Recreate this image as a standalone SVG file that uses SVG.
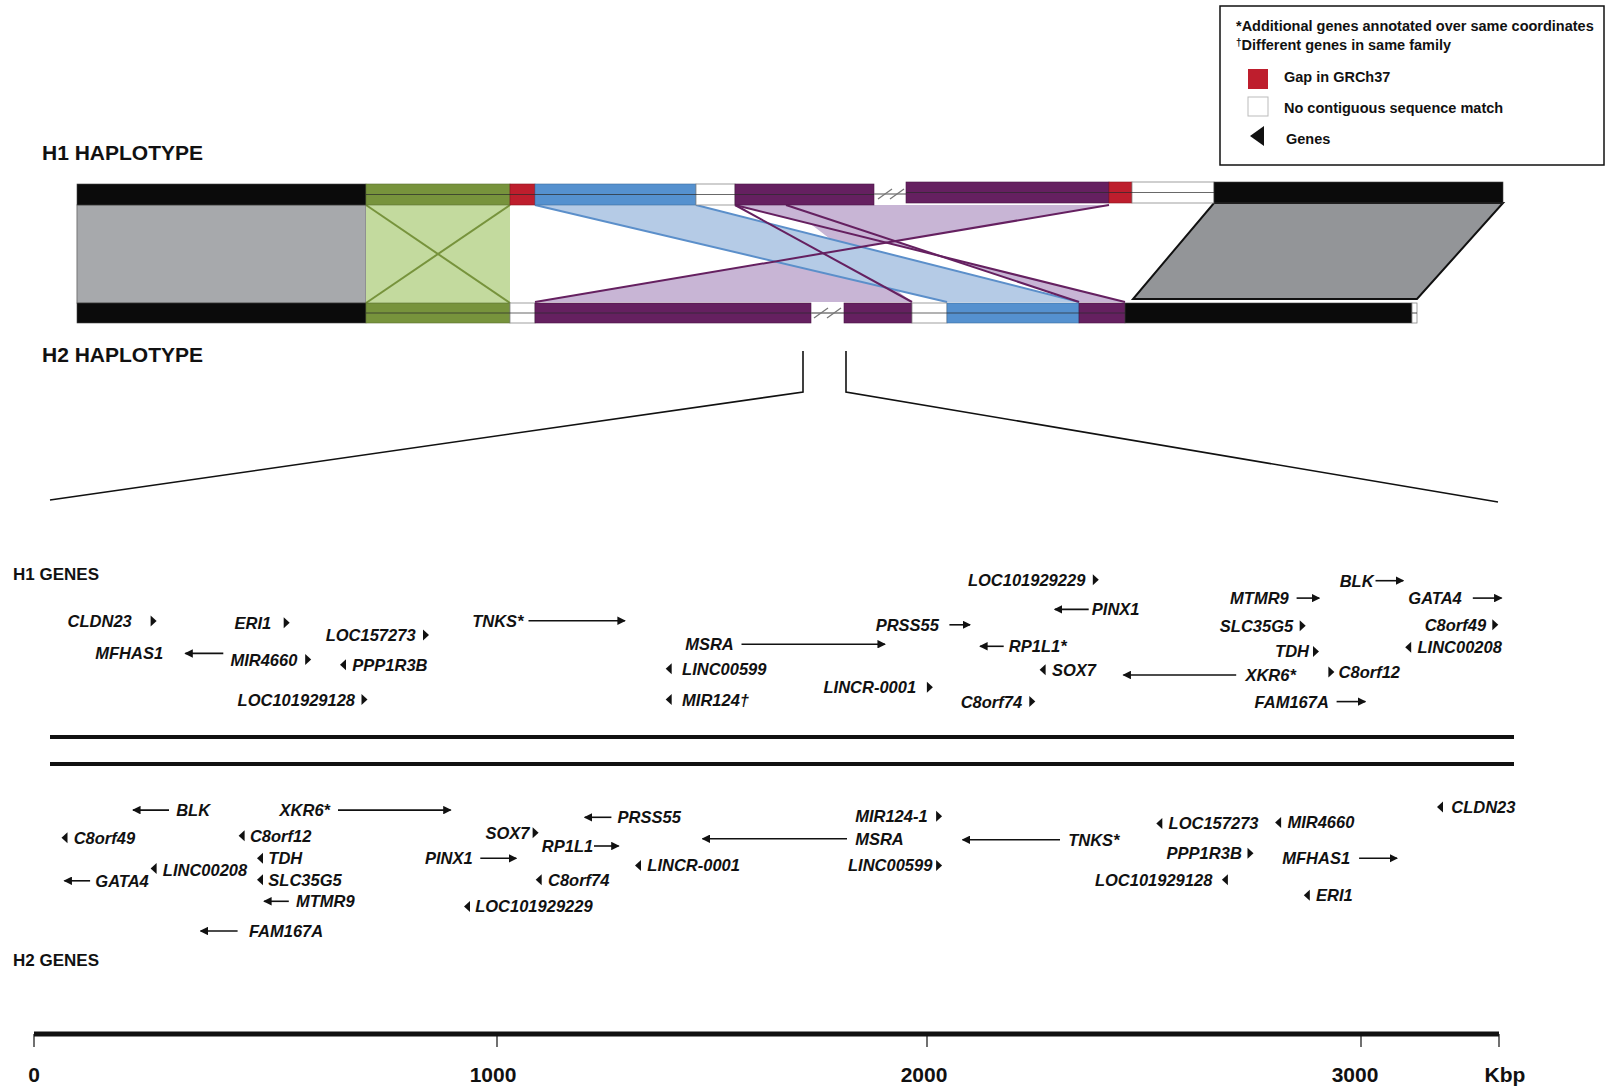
<svg xmlns="http://www.w3.org/2000/svg" width="1606" height="1089" viewBox="0 0 1606 1089">
<style>
.g{font-family:"Liberation Sans",Arial,sans-serif;font-weight:bold;font-style:italic;font-size:16.5px;fill:#111}
.h{font-family:"Liberation Sans",Arial,sans-serif;font-weight:bold;font-size:21px;fill:#111}
.s{font-family:"Liberation Sans",Arial,sans-serif;font-weight:bold;font-size:17px;fill:#111}
.lg{font-family:"Liberation Sans",Arial,sans-serif;font-weight:bold;font-size:14.5px;fill:#111}
.sc{font-family:"Liberation Sans",Arial,sans-serif;font-weight:bold;font-size:21px;fill:#111}
.ar{stroke:#111;stroke-width:1.6;fill:none;marker-end:url(#ah)}
.tri{fill:#111}
.blk{fill:#0b0b0b;stroke:#444;stroke-width:0.6}
.grn{fill:#77933c;stroke:#5a7030;stroke-width:0.6}
.red{fill:#be1e2d;stroke:#8a1520;stroke-width:0.6}
.blu{fill:#5591cf;stroke:#3f6f9f;stroke-width:0.6}
.pur{fill:#652060;stroke:#4a1746;stroke-width:0.6}
.wht{fill:#fff;stroke:#888;stroke-width:0.8}
.cl{stroke:#2a2a2a;stroke-width:1.2;opacity:0.7}
.br{stroke:#777;stroke-width:1.3}
.zl{stroke:#111;stroke-width:1.6;fill:none}
.ml{stroke:#652060;stroke-width:2;fill:none}
.bl{stroke:#5b8fca;stroke-width:2;fill:none}
</style>
<defs>
<marker id="ah" viewBox="0 0 8 8" refX="7" refY="4" markerWidth="8.5" markerHeight="8.5" markerUnits="userSpaceOnUse" orient="auto"><path d="M0,0 L8,4 L0,8 z" fill="#111"/></marker>
<path id="tr" d="M0,-5.5 L6,0 L0,5.5 z"/>
<path id="tl" d="M6,-5.5 L0,0 L6,5.5 z"/>
</defs>
<rect width="1606" height="1089" fill="#fff"/>

<!-- Legend -->
<g id="legend">
<rect x="1220" y="6" width="384" height="159" fill="#fff" stroke="#111" stroke-width="1.5"/>
<text class="lg" x="1236" y="31">*Additional genes annotated over same coordinates</text>
<text class="lg" x="1236" y="50"><tspan font-size="10" dy="-4">†</tspan><tspan dy="4">Different genes in same family</tspan></text>
<rect x="1248" y="69" width="20" height="20" fill="#be1e2d"/>
<text class="lg" x="1284" y="82">Gap in GRCh37</text>
<rect x="1248" y="97" width="20" height="19" fill="#fff" stroke="#bbb" stroke-width="1"/>
<text class="lg" x="1284" y="113">No contiguous sequence match</text>
<path d="M1264,126 L1250,136 L1264,146 z" fill="#111"/>
<text class="lg" x="1286" y="144">Genes</text>
</g>

<text class="h" x="42" y="160">H1 HAPLOTYPE</text>
<text class="h" x="42" y="362">H2 HAPLOTYPE</text>

<!-- connectors: synteny bands and zoom lines -->
<g id="connectors">
<rect x="77" y="205" width="289" height="98" fill="#a7a9ac" stroke="#777" stroke-width="1"/>
<rect x="366" y="205" width="144" height="98" fill="#c3da9e"/>
<line x1="366" y1="205" x2="510" y2="303" stroke="#77933c" stroke-width="2"/>
<line x1="510" y1="205" x2="366" y2="303" stroke="#77933c" stroke-width="2"/>
<polygon points="786,205 1109,205 535,302 912,302" fill="#c8b5d5" fill-rule="evenodd"/>
<polygon points="535,205 696,205 1079,302 947,302" fill="#b5cbe6"/>
<polygon points="735,205 786,205 1079,302 1125,302" fill="#c8b5d5" fill-rule="evenodd"/>
<line class="bl" x1="535" y1="205" x2="947" y2="302"/>
<line class="bl" x1="696" y1="205" x2="1079" y2="302"/>
<line class="ml" x1="1109" y1="205" x2="535" y2="302"/>
<line class="ml" x1="735" y1="205" x2="912" y2="302"/>
<line class="ml" x1="735" y1="205" x2="1125" y2="302"/>
<line class="ml" x1="786" y1="205" x2="1079" y2="302"/>
<polygon points="1214,203 1503,203 1417,299 1133,299" fill="#939598" stroke="#111" stroke-width="2"/>
<polyline class="zl" points="803,351 803,392 50,500"/>
<polyline class="zl" points="846,351 846,392 1498,502"/>
</g>

<!-- H1 haplotype bar -->
<g id="h1-bar">
<rect class="blk" x="77" y="184" width="289" height="21"/>
<rect class="grn" x="366" y="184" width="144" height="21"/>
<rect class="red" x="510" y="184" width="25" height="21"/>
<rect class="blu" x="535" y="184" width="161" height="21"/>
<rect class="wht" x="696" y="184" width="39" height="21"/>
<rect class="pur" x="735" y="184" width="139" height="21"/>
<line class="cl" x1="366" y1="194.5" x2="874" y2="194.5"/>
<line class="br" x1="874" y1="194" x2="906" y2="194"/>
<line class="br" x1="878" y1="199" x2="892" y2="189"/>
<line class="br" x1="890" y1="199" x2="904" y2="189"/>
<rect class="pur" x="906" y="182" width="203" height="21"/>
<rect class="red" x="1109" y="182" width="23" height="21"/>
<rect class="wht" x="1132" y="182" width="82" height="21"/>
<rect class="blk" x="1214" y="182" width="289" height="21"/>
<line class="cl" x1="906" y1="192.5" x2="1214" y2="192.5"/>
</g>

<!-- H2 haplotype bar -->
<g id="h2-bar">
<rect class="blk" x="77" y="303" width="289" height="20"/>
<rect class="grn" x="366" y="303" width="144" height="20"/>
<rect class="wht" x="510" y="303" width="25" height="20"/>
<rect class="pur" x="535" y="303" width="276" height="20"/>
<line class="cl" x1="366" y1="313" x2="811" y2="313"/>
<line class="br" x1="811" y1="313" x2="844" y2="313"/>
<line class="br" x1="814" y1="318" x2="828" y2="308"/>
<line class="br" x1="827" y1="318" x2="841" y2="308"/>
<rect class="pur" x="844" y="303" width="68" height="20"/>
<rect class="wht" x="912" y="303" width="35" height="20"/>
<rect class="blu" x="947" y="303" width="132" height="20"/>
<rect class="pur" x="1079" y="303" width="46" height="20"/>
<rect class="blk" x="1125" y="303" width="287" height="20"/>
<rect class="wht" x="1412" y="303" width="5" height="20"/>
<line class="cl" x1="844" y1="313" x2="1125" y2="313"/>
<line class="cl" x1="1412" y1="313" x2="1417" y2="313"/>
</g>

<text class="s" x="13" y="580">H1 GENES</text>
<text class="s" x="13" y="966">H2 GENES</text>

<line x1="50" y1="737" x2="1514" y2="737" stroke="#111" stroke-width="4"/>
<line x1="50" y1="764" x2="1514" y2="764" stroke="#111" stroke-width="4"/>

<!-- H1 genes -->
<g id="h1-genes">
<g id="h1-CLDN23"><text class="g" x="67.6" y="627">CLDN23</text><use href="#tr" class="tri" x="150.6" y="621"/></g>
<g id="h1-MFHAS1"><text class="g" x="95.3" y="659">MFHAS1</text><line class="ar" x1="223.3" y1="653.4" x2="185.4" y2="653.4"/></g>
<g id="h1-ERI1"><text class="g" x="234.5" y="629">ERI1</text><use href="#tr" class="tri" x="283.7" y="622.7"/></g>
<g id="h1-MIR4660"><text class="g" x="230.4" y="666">MIR4660</text><use href="#tr" class="tri" x="305.2" y="659.6"/></g>
<g id="h1-LOC157273"><text class="g" x="325.7" y="641">LOC157273</text><use href="#tr" class="tri" x="423" y="635"/></g>
<g id="h1-PPP1R3B"><use href="#tl" class="tri" x="340" y="664.7"/><text class="g" x="352.3" y="671">PPP1R3B</text></g>
<g id="h1-LOC101929128"><text class="g" x="237.6" y="706">LOC101929128</text><use href="#tr" class="tri" x="361.5" y="699.5"/></g>
<g id="h1-TNKS"><text class="g" x="472.2" y="627">TNKS*</text><line class="ar" x1="528.5" y1="620.7" x2="624.8" y2="620.7"/></g>
<g id="h1-MSRA"><text class="g" x="685.2" y="650">MSRA</text><line class="ar" x1="741.5" y1="644.2" x2="884.9" y2="644.2"/></g>
<g id="h1-LINC00599"><use href="#tl" class="tri" x="665.7" y="668.8"/><text class="g" x="682.1" y="675">LINC00599</text></g>
<g id="h1-MIR124"><use href="#tl" class="tri" x="665.7" y="699.5"/><text class="g" x="682.1" y="706">MIR124†</text></g>
<g id="h1-PRSS55"><text class="g" x="875.7" y="631">PRSS55</text><line class="ar" x1="949.4" y1="624.8" x2="970" y2="624.8"/></g>
<g id="h1-LINCR-0001"><text class="g" x="823.5" y="693">LINCR-0001</text><use href="#tr" class="tri" x="926.9" y="687.2"/></g>
<g id="h1-LOC101929229"><text class="g" x="967.9" y="586">LOC101929229</text><use href="#tr" class="tri" x="1092.8" y="579.7"/></g>
<g id="h1-PINX1"><text class="g" x="1091.8" y="615">PINX1</text><line class="ar" x1="1088.7" y1="609.4" x2="1054.9" y2="609.4"/></g>
<g id="h1-RP1L1"><text class="g" x="1008.8" y="652">RP1L1*</text><line class="ar" x1="1003.7" y1="646.3" x2="980.2" y2="646.3"/></g>
<g id="h1-SOX7"><use href="#tl" class="tri" x="1039.6" y="669.8"/><text class="g" x="1051.9" y="676">SOX7</text></g>
<g id="h1-C8orf74"><text class="g" x="960.7" y="708">C8orf74</text><use href="#tr" class="tri" x="1029.3" y="701.6"/></g>
<g id="h1-XKR6"><text class="g" x="1245.4" y="681">XKR6*</text><line class="ar" x1="1236.2" y1="675" x2="1123.5" y2="675"/></g>
<g id="h1-MTMR9"><text class="g" x="1230.1" y="604">MTMR9</text><line class="ar" x1="1296.6" y1="598.1" x2="1319.2" y2="598.1"/></g>
<g id="h1-SLC35G5"><text class="g" x="1219.8" y="632">SLC35G5</text><use href="#tr" class="tri" x="1299.7" y="625.8"/></g>
<g id="h1-TDH"><text class="g" x="1275.1" y="657">TDH</text><use href="#tr" class="tri" x="1313" y="651.4"/></g>
<g id="h1-C8orf12"><use href="#tr" class="tri" x="1328.4" y="671.9"/><text class="g" x="1338.6" y="678">C8orf12</text></g>
<g id="h1-FAM167A"><text class="g" x="1254.6" y="708">FAM167A</text><line class="ar" x1="1336.6" y1="701.6" x2="1365.3" y2="701.6"/></g>
<g id="h1-BLK"><text class="g" x="1339.7" y="587">BLK</text><line class="ar" x1="1375.5" y1="580.7" x2="1403.2" y2="580.7"/></g>
<g id="h1-GATA4"><text class="g" x="1408.3" y="604">GATA4</text><line class="ar" x1="1472.8" y1="598.1" x2="1501.5" y2="598.1"/></g>
<g id="h1-C8orf49"><text class="g" x="1424.7" y="631">C8orf49</text><use href="#tr" class="tri" x="1492.3" y="624.8"/></g>
<g id="h1-LINC00208"><use href="#tl" class="tri" x="1405.2" y="647.3"/><text class="g" x="1417.5" y="653">LINC00208</text></g>
</g>

<!-- H2 genes -->
<g id="h2-genes">
<g id="h2-BLK"><text class="g" x="176.2" y="816">BLK</text><line class="ar" x1="169" y1="810.1" x2="133.1" y2="810.1"/></g>
<g id="h2-XKR6"><text class="g" x="279.6" y="816">XKR6*</text><line class="ar" x1="338" y1="810.1" x2="450.6" y2="810.1"/></g>
<g id="h2-C8orf49"><use href="#tl" class="tri" x="61.5" y="837.8"/><text class="g" x="73.7" y="844">C8orf49</text></g>
<g id="h2-C8orf12"><use href="#tl" class="tri" x="238.6" y="835.7"/><text class="g" x="249.9" y="842">C8orf12</text></g>
<g id="h2-TDH"><use href="#tl" class="tri" x="257" y="858.3"/><text class="g" x="268.3" y="864">TDH</text></g>
<g id="h2-LINC00208"><use href="#tl" class="tri" x="150.6" y="868.5"/><text class="g" x="162.8" y="876">LINC00208</text></g>
<g id="h2-GATA4"><text class="g" x="95.3" y="887">GATA4</text><line class="ar" x1="90.1" y1="880.8" x2="64.5" y2="880.8"/></g>
<g id="h2-SLC35G5"><use href="#tl" class="tri" x="257" y="879.8"/><text class="g" x="268.3" y="886">SLC35G5</text></g>
<g id="h2-MTMR9"><text class="g" x="296" y="907">MTMR9</text><line class="ar" x1="288.8" y1="901.3" x2="264.2" y2="901.3"/></g>
<g id="h2-FAM167A"><text class="g" x="248.9" y="937">FAM167A</text><line class="ar" x1="237.6" y1="931" x2="200.7" y2="931"/></g>
<g id="h2-SOX7"><text class="g" x="485.5" y="839">SOX7</text><use href="#tr" class="tri" x="532.6" y="832.7"/></g>
<g id="h2-PINX1"><text class="g" x="425" y="864">PINX1</text><line class="ar" x1="480.3" y1="858.3" x2="516.2" y2="858.3"/></g>
<g id="h2-RP1L1"><text class="g" x="541.8" y="852">RP1L1</text><line class="ar" x1="594" y1="846" x2="618.6" y2="846"/></g>
<g id="h2-PRSS55"><text class="g" x="617.6" y="823">PRSS55</text><line class="ar" x1="611.4" y1="817.3" x2="584.8" y2="817.3"/></g>
<g id="h2-C8orf74"><use href="#tl" class="tri" x="535.7" y="879.8"/><text class="g" x="548" y="886">C8orf74</text></g>
<g id="h2-LOC101929229"><use href="#tl" class="tri" x="464" y="906.4"/><text class="g" x="475.2" y="912">LOC101929229</text></g>
<g id="h2-LINCR-0001"><use href="#tl" class="tri" x="635" y="865.4"/><text class="g" x="647.3" y="871">LINCR-0001</text></g>
<g id="h2-MIR124-1"><text class="g" x="855.2" y="822">MIR124-1</text><use href="#tr" class="tri" x="936.1" y="816.3"/></g>
<g id="h2-MSRA"><text class="g" x="855.2" y="845">MSRA</text><line class="ar" x1="847" y1="838.8" x2="702.6" y2="838.8"/></g>
<g id="h2-LINC00599"><text class="g" x="848" y="871">LINC00599</text><use href="#tr" class="tri" x="936.1" y="865.4"/></g>
<g id="h2-TNKS"><text class="g" x="1068.2" y="846">TNKS*</text><line class="ar" x1="1060" y1="839.8" x2="962.7" y2="839.8"/></g>
<g id="h2-LOC157273"><use href="#tl" class="tri" x="1156.3" y="823.5"/><text class="g" x="1168.6" y="829">LOC157273</text></g>
<g id="h2-PPP1R3B"><text class="g" x="1166.6" y="859">PPP1R3B</text><use href="#tr" class="tri" x="1247.5" y="853.2"/></g>
<g id="h2-LOC101929128"><text class="g" x="1094.9" y="886">LOC101929128</text><use href="#tl" class="tri" x="1221.9" y="879.8"/></g>
<g id="h2-MIR4660"><use href="#tl" class="tri" x="1275.1" y="822.4"/><text class="g" x="1287.4" y="828">MIR4660</text></g>
<g id="h2-MFHAS1"><text class="g" x="1282.3" y="864">MFHAS1</text><line class="ar" x1="1359.1" y1="858.3" x2="1397" y2="858.3"/></g>
<g id="h2-ERI1"><use href="#tl" class="tri" x="1303.8" y="895.2"/><text class="g" x="1316.1" y="901">ERI1</text></g>
<g id="h2-CLDN23"><use href="#tl" class="tri" x="1437" y="807"/><text class="g" x="1451.3" y="813">CLDN23</text></g>
</g>

<!-- Scale bar -->
<g id="scale">
<line x1="34" y1="1034" x2="1499" y2="1034" stroke="#111" stroke-width="5"/>
<g stroke="#111" stroke-width="1.2">
<line x1="34" y1="1034" x2="34" y2="1047"/>
<line x1="497" y1="1034" x2="497" y2="1047"/>
<line x1="927" y1="1034" x2="927" y2="1047"/>
<line x1="1361" y1="1034" x2="1361" y2="1047"/>
<line x1="1499" y1="1034" x2="1499" y2="1047"/>
</g>
<text class="sc" x="34" y="1082" text-anchor="middle">0</text>
<text class="sc" x="493" y="1082" text-anchor="middle">1000</text>
<text class="sc" x="924" y="1082" text-anchor="middle">2000</text>
<text class="sc" x="1355" y="1082" text-anchor="middle">3000</text>
<text class="sc" x="1505" y="1082" text-anchor="middle">Kbp</text>
</g>
</svg>
